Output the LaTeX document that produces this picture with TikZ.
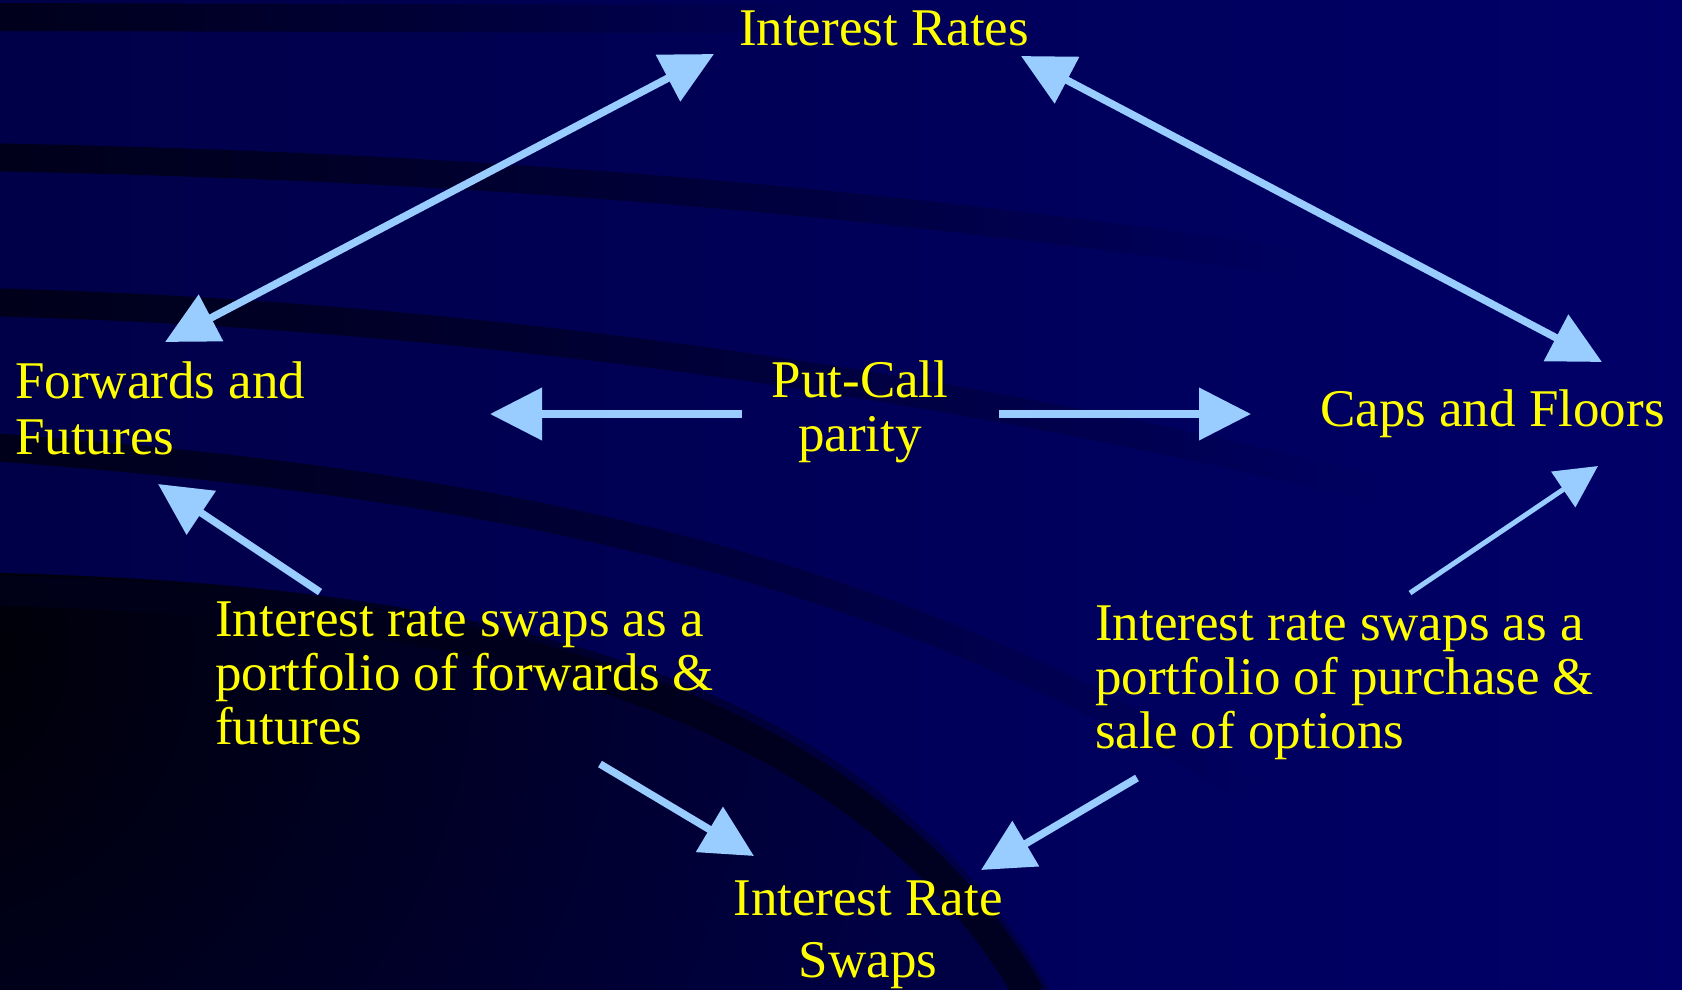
\documentclass[tikz,border=0pt]{standalone}
\usepackage{fontspec}
\setmainfont{Liberation Serif}
\usetikzlibrary{arrows.meta,fadings}

\definecolor{bgleft}{RGB}{0,0,72}
\definecolor{bgright}{RGB}{0,0,104}
\definecolor{band}{RGB}{0,0,26}
\definecolor{deep}{RGB}{0,0,4}
\definecolor{lowblue}{RGB}{0,0,68}
\definecolor{arrowblue}{RGB}{153,204,255}
\definecolor{textyellow}{RGB}{255,255,0}

% bands stay solid on their left half and fade out towards the right
\tikzfading[name=tailfade, left color=transparent!0, middle color=transparent!0, right color=transparent!100]

\tikzset{
  words/.style={text=textyellow, font=\fontsize{53}{54}\selectfont, inner sep=0pt},
  bigtip/.tip={Triangle[length=52pt,width=51pt]},
  smalltip/.tip={Triangle[length=42pt,width=42pt]},
  link/.style={draw=arrowblue, line width=7.5pt, -bigtip},
  twoway/.style={draw=arrowblue, line width=7.5pt, bigtip-bigtip},
  thinlink/.style={draw=arrowblue, line width=5pt, -smalltip},
  stripe/.style={draw=band, line width=28pt, path fading=tailfade},
}

\begin{document}
\begin{tikzpicture}[x=1pt,y=-1pt]
  % backdrop
  \shade[left color=bgleft, right color=bgright] (0,0) rectangle (1682,989);
  \useasboundingbox (0,0) rectangle (1682,989);

  % sweeping stripes
  \draw[stripe] (-20,17) -- (800,19);
  \draw[stripe] (-20,157) .. controls (400,165) and (800,190) .. (1300,262);
  \draw[stripe] (-20,302) .. controls (400,312) and (900,370) .. (1380,490);
  \draw[stripe] (-20,446) .. controls (420,478) and (850,540) .. (1250,790);

  % dark lower-left swell, darkest near the left edge
  \begin{scope}
    \clip (-2,573) .. controls (500,585) and (880,680) .. (1050,991) -- (-2,991) -- cycle;
    \fill[lowblue] (-2,560) rectangle (1100,991);
    \shade[inner color=deep, outer color=lowblue] (-80,650) circle (1000);
    \draw[draw=band, line width=30pt, opacity=0.85]
      (-20,590) .. controls (480,602) and (860,700) .. (1030,995);
  \end{scope}

  % labels
  \node[words, anchor=base] (rates) at (884,45) {Interest Rates};
  \node[words, anchor=base west, align=left] (fwd) at (15,454) {Forwards and\\[2pt]Futures};
  \node[words, anchor=base, align=center] (pcp) at (860,451) {Put-Call\\parity};
  \node[words, anchor=base west] (caps) at (1320,426) {Caps and Floors};
  \node[words, anchor=base west, align=left] (swfwd) at (215,744)
    {Interest rate swaps as a\\portfolio of forwards \&\\futures};
  \node[words, anchor=base west, align=left] (swopt) at (1095,748)
    {Interest rate swaps as a\\portfolio of purchase \&\\sale of options};
  \node[words, anchor=base, align=center] (irs) at (868,977) {Interest Rate\\[8pt]Swaps};

  % connector ends
  \coordinate (rates-l) at (714,54);
  \coordinate (fwd-t) at (165,342);
  \coordinate (rates-r) at (1021,56);
  \coordinate (caps-t) at (1602,362);
  \coordinate (pcp-l) at (742,414);
  \coordinate (fwd-r) at (490,414);
  \coordinate (pcp-r) at (999,414);
  \coordinate (caps-l) at (1251,414);
  \coordinate (swfwd-t) at (320,592);
  \coordinate (fwd-b) at (158,484);
  \coordinate (swopt-t) at (1410,593);
  \coordinate (caps-b) at (1598,466);
  \coordinate (swfwd-b) at (600,764);
  \coordinate (irs-l) at (754,856);
  \coordinate (swopt-b) at (1137,778);
  \coordinate (irs-r) at (981,870);

  % connectors
  \draw[twoway] (fwd-t) -- (rates-l);
  \draw[twoway] (rates-r) -- (caps-t);
  \draw[link] (pcp-l) -- (fwd-r);
  \draw[link] (pcp-r) -- (caps-l);
  \draw[link] (swfwd-t) -- (fwd-b);
  \draw[thinlink] (swopt-t) -- (caps-b);
  \draw[link] (swfwd-b) -- (irs-l);
  \draw[link] (swopt-b) -- (irs-r);
\end{tikzpicture}
\end{document}
